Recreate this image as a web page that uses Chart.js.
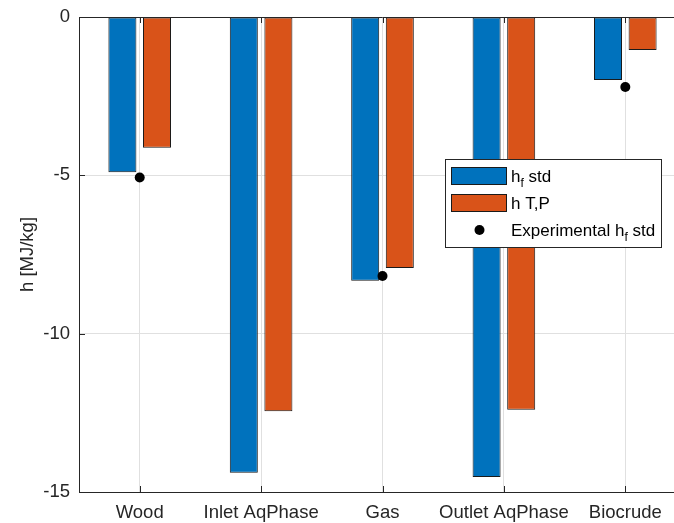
<!DOCTYPE html>
<html>
<head>
<meta charset="utf-8">
<script src="https://cdn.jsdelivr.net/npm/chart.js@4/dist/chart.umd.min.js"></script>
<style>
  html, body { margin: 0; padding: 0; background: #fff; overflow: hidden; }
  #wrap { position: relative; width: 700px; height: 523px; }
</style>
</head>
<body>
<div id="wrap"><canvas id="c" width="700" height="523"></canvas></div>
<script>
// Enthalpy per stream (MJ/kg)
const categories = ['Wood', 'Inlet AqPhase', 'Gas', 'Outlet AqPhase', 'Biocrude'];
const hfStd = [-4.90, -14.39, -8.33, -14.53, -1.99];
const hTP = [-4.13, -12.45, -7.93, -12.40, -1.04];
const hfExperimental = [-5.07, null, -8.18, null, -2.21];
const yTicks = [0, -5, -10, -15];

const FONT = "'Liberation Sans', Arial, Helvetica, sans-serif";
const INK = '#262626';
const GRID = '#e0e0e0';

// Box outline and inward tick marks on the axes
const axesBox = {
  id: 'axesBox',
  afterDraw(chart) {
    const { ctx, chartArea: a, scales } = chart;
    ctx.save();
    ctx.strokeStyle = INK;
    ctx.lineWidth = 1;
    ctx.beginPath();
    ctx.moveTo(a.left, a.top + 0.5);
    ctx.lineTo(a.right, a.top + 0.5);
    ctx.stroke();
    const len = 6;
    ctx.beginPath();
    categories.forEach((c, i) => {
      const x = Math.round(scales.x.getPixelForValue(i)) + 0.5;
      ctx.moveTo(x, a.bottom); ctx.lineTo(x, a.bottom - len);
      ctx.moveTo(x, a.top); ctx.lineTo(x, a.top + len);
    });
    yTicks.forEach(v => {
      const y = Math.round(scales.y.getPixelForValue(v)) + 0.5;
      ctx.moveTo(a.left, y); ctx.lineTo(a.left + len, y);
    });
    ctx.stroke();
    ctx.restore();
  }
};

// Legend with subscripted labels
const subLegend = {
  id: 'subLegend',
  afterDraw(chart) {
    const { ctx } = chart;
    const ds = chart.data.datasets;
    const bx = 445.5, by = 159.5, bw = 216, bh = 88;
    ctx.save();
    ctx.fillStyle = '#ffffff';
    ctx.fillRect(bx, by, bw, bh);
    ctx.strokeStyle = INK;
    ctx.lineWidth = 1;
    ctx.strokeRect(bx, by, bw, bh);

    const drawLabel = (parts, x, y) => {
      ctx.fillStyle = '#000';
      ctx.textBaseline = 'alphabetic';
      ctx.textAlign = 'left';
      let cx = x;
      parts.forEach(p => {
        ctx.font = (p.sub ? '12px ' : '17px ') + FONT;
        ctx.fillText(p.t, cx, y + (p.sub ? 5 : 0));
        cx += ctx.measureText(p.t).width;
      });
    };

    // bar swatches
    [[ds[0], 167.5], [ds[1], 194.5]].forEach(([d, y]) => {
      ctx.fillStyle = d.backgroundColor;
      ctx.fillRect(451.5, y, 55, 17);
      ctx.strokeStyle = '#1a1a1a';
      ctx.strokeRect(451.5, y, 55, 17);
    });
    drawLabel([{ t: 'h' }, { t: 'f', sub: true }, { t: ' std' }], 511, 182);
    drawLabel([{ t: 'h T,P' }], 511, 209);

    // marker
    ctx.fillStyle = ds[2].pointBackgroundColor;
    ctx.beginPath();
    ctx.arc(479.5, 230, 5, 0, Math.PI * 2);
    ctx.fill();
    drawLabel([{ t: 'Experimental h' }, { t: 'f', sub: true }, { t: ' std' }], 511, 236);
    ctx.restore();
  }
};

new Chart(document.getElementById('c'), {
  data: {
    labels: categories,
    datasets: [
      {
        type: 'bar', label: 'hf std', data: hfStd,
        backgroundColor: '#0072BD', borderColor: '#1a1a1a', borderWidth: 1,
        borderSkipped: false, categoryPercentage: 0.57, barPercentage: 0.81, order: 2
      },
      {
        type: 'bar', label: 'h T,P', data: hTP,
        backgroundColor: '#D95319', borderColor: '#1a1a1a', borderWidth: 1,
        borderSkipped: false, categoryPercentage: 0.57, barPercentage: 0.81, order: 2
      },
      {
        type: 'line', label: 'Experimental hf std', data: hfExperimental,
        showLine: false, pointRadius: 5, pointHoverRadius: 5,
        pointBackgroundColor: '#000', pointBorderColor: '#000', pointBorderWidth: 0,
        order: 0
      }
    ]
  },
  options: {
    responsive: false,
    animation: false,
    devicePixelRatio: 1,
    layout: { padding: { top: 17, right: 14, left: 0, bottom: 0 } },
    plugins: { legend: { display: false }, tooltip: { enabled: false } },
    scales: {
      x: {
        type: 'category',
        offset: true,
        grid: { offset: false, color: GRID, drawTicks: false },
        border: { color: INK, width: 1 },
        ticks: { color: INK, font: { family: FONT, size: 18.5 }, padding: 10, maxRotation: 0, autoSkip: false },
        afterFit: s => { s.height = 31; s.paddingLeft = 0; s.paddingRight = 0; }
      },
      y: {
        min: -15, max: 0,
        grid: { color: GRID, drawTicks: false },
        border: { color: INK, width: 1 },
        ticks: { stepSize: 5, color: INK, font: { family: FONT, size: 18.5 }, padding: 9 },
        title: { display: true, text: 'h [MJ/kg]', color: INK, font: { family: FONT, size: 18.5 }, padding: { top: 17, bottom: 0 } },
        afterFit: s => { s.width = 79; s.paddingTop = 0; s.paddingBottom = 0; }
      }
    }
  },
  plugins: [axesBox, subLegend]
});
</script>
</body>
</html>
